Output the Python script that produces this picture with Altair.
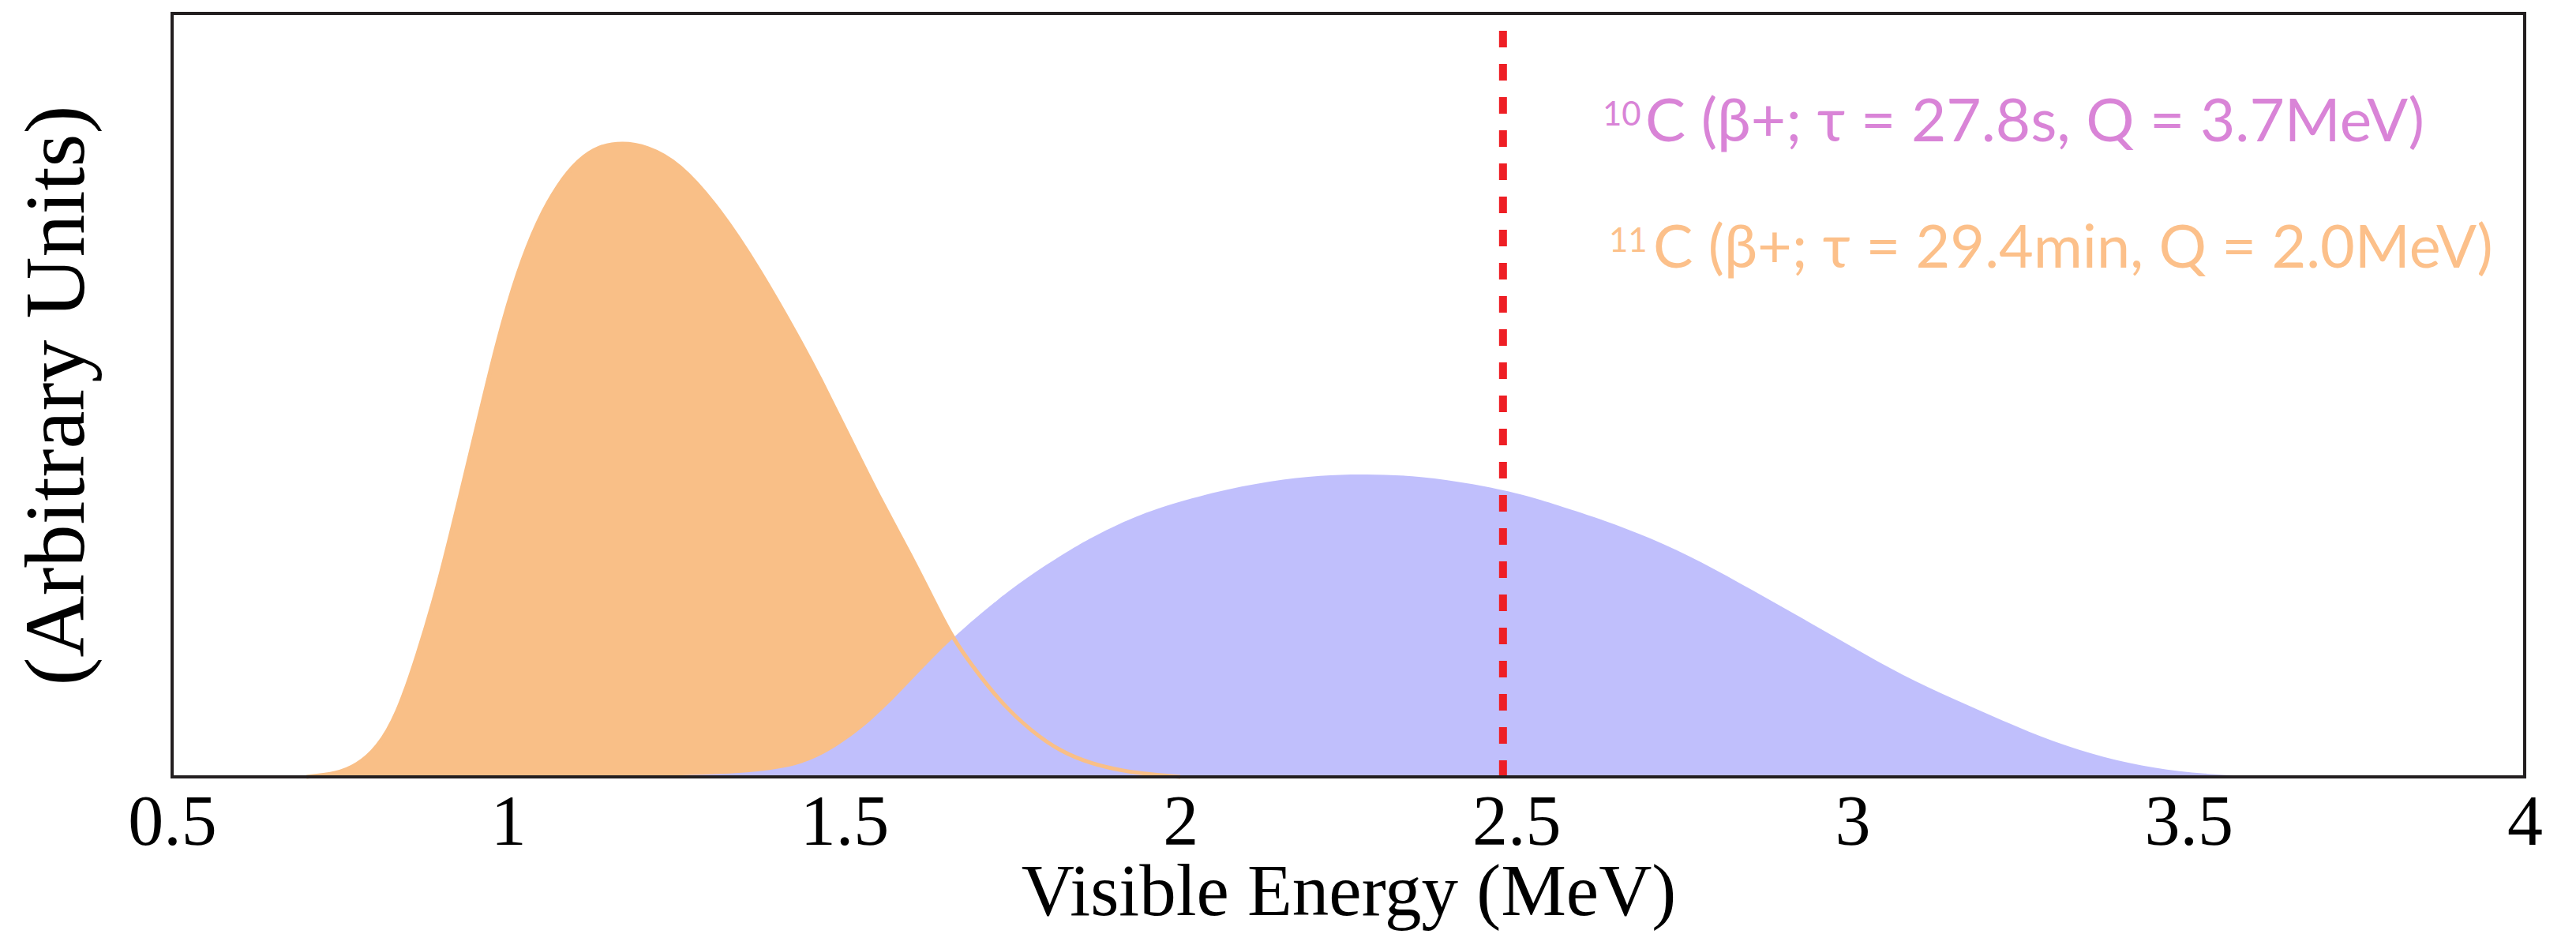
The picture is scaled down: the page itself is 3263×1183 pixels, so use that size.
import altair as alt
import pandas as pd

# 11C spectrum (orange)
c11_energy = [0.70, 0.745, 0.775, 0.805, 0.835, 0.865, 0.895, 0.925, 0.955, 0.985,
              1.014, 1.044, 1.074, 1.104, 1.134, 1.170, 1.206, 1.254, 1.314, 1.374,
              1.434, 1.463, 1.508, 1.553, 1.598, 1.643, 1.661, 1.688, 1.733, 1.778,
              1.822, 1.868, 1.913, 1.958, 2.0]
c11_value = [0.0, 0.004, 0.015, 0.037, 0.081, 0.159, 0.247, 0.355, 0.465, 0.575,
             0.662, 0.729, 0.776, 0.808, 0.826, 0.831, 0.826, 0.805, 0.745, 0.665,
             0.572, 0.524, 0.444, 0.364, 0.292, 0.213, 0.183, 0.148, 0.097, 0.060,
             0.033, 0.017, 0.008, 0.003, 0.0]

# 10C spectrum (blue)
c10_energy = [1.0, 1.2, 1.32, 1.418, 1.477, 1.544, 1.598, 1.661, 1.733, 1.778,
              1.835, 1.868, 1.91, 1.958, 2.048, 2.135, 2.21, 2.273, 2.36,
              2.435, 2.51, 2.55, 2.625, 2.70, 2.775, 2.85, 2.925, 3.0, 3.074,
              3.15, 3.225, 3.299, 3.374, 3.449, 3.524, 3.6, 3.64]
c10_value = [0.0, 0.001, 0.003, 0.010, 0.031, 0.075, 0.125, 0.183, 0.236, 0.265,
             0.297, 0.3135, 0.332, 0.350, 0.373, 0.388, 0.395, 0.397, 0.394,
             0.384, 0.370, 0.359, 0.338, 0.313, 0.282, 0.245, 0.208, 0.170, 0.133,
             0.102, 0.073, 0.0455, 0.025, 0.011, 0.0035, 0.001, 0.0]

threshold = [2.48]
x_ticks = [0.5, 1, 1.5, 2, 2.5, 3, 3.5, 4]

W, H = 2980, 967
ORANGE = "#F9BF87"
BLUE = "#C0BFFC"
SERIF = "Liberation Serif"
SANS = "Lato"

c11 = pd.DataFrame({"E": c11_energy, "v": c11_value})
c10 = pd.DataFrame({"E": c10_energy, "v": c10_value})
thr = pd.DataFrame({"E": threshold, "y0": [0.0], "y1": [1.0]})

xscale = alt.Scale(domain=[0.5, 4], nice=False, zero=False)
yscale = alt.Scale(domain=[0, 1], nice=False, zero=False)

xaxis = alt.Axis(values=x_ticks, format="~g", title="Visible Energy (MeV)",
                 grid=False, ticks=False, tickSize=0, domain=False,
                 labelFont=SERIF, labelFontSize=90, labelColor="black",
                 labelBaseline="alphabetic", labelPadding=85, labelFlush=False,
                 titleFont=SERIF, titleFontSize=93, titleFontWeight="normal",
                 titleColor="black", titleBaseline="alphabetic",
                 titleX=W / 2, titleY=174, titleAlign="center")
yaxis = alt.Axis(title="(Arbitrary Units)", labels=False, ticks=False, tickSize=0,
                 domain=False, grid=False,
                 titleFont=SERIF, titleFontSize=108, titleFontWeight="normal",
                 titleColor="black", titleBaseline="alphabetic",
                 titleX=-113, titleY=H / 2, titleAlign="center", titleAngle=270)

orange_area = alt.Chart(c11).mark_area(color=ORANGE, opacity=1, interpolate="basis").encode(
    x=alt.X("E:Q", scale=xscale, axis=xaxis),
    y=alt.Y("v:Q", scale=yscale, axis=yaxis),
)
blue_area = alt.Chart(c10).mark_area(color=BLUE, opacity=1, interpolate="basis").encode(
    x=alt.X("E:Q", scale=xscale),
    y=alt.Y("v:Q", scale=yscale),
)
orange_line = alt.Chart(c11).mark_line(color=ORANGE, strokeWidth=5, interpolate="basis").encode(
    x=alt.X("E:Q", scale=xscale),
    y=alt.Y("v:Q", scale=yscale),
)
rule = alt.Chart(thr).mark_rule(color="#EE1F25", strokeWidth=10, strokeDash=[21, 21]).encode(
    x=alt.X("E:Q", scale=xscale),
    y=alt.Y("y0:Q", scale=yscale),
    y2="y1:Q",
)

frame = alt.Chart(pd.DataFrame({"f": [0]})).mark_rect(
    fill=None, filled=False, stroke="#231F20", strokeWidth=4
).encode(x=alt.value(0), x2=alt.value(W), y=alt.value(0), y2=alt.value(H))

labels = pd.DataFrame({
    "sup": ["10", "11"],
    "main": ["C (\u03b2+; \u03c4 = 27.8s, Q = 3.7MeV)", "C (\u03b2+; \u03c4 = 29.4min, Q = 2.0MeV)"],
    "color": ["#D984D7", "#FCC08A"],
    "size": [76.5, 75.5],
})

def text_layer(row, field, px, py, size):
    return alt.Chart(labels.iloc[[row]]).mark_text(
        font=SANS, fontSize=size, align="left", baseline="alphabetic",
        color=labels["color"][row]
    ).encode(text=f"{field}:N", x=alt.value(px), y=alt.value(py))

texts = [
    text_layer(0, "sup", 1812, 142, 42),
    text_layer(0, "main", 1866, 162, float(labels["size"][0])),
    text_layer(1, "sup", 1820, 302, 42),
    text_layer(1, "main", 1876, 322, float(labels["size"][1])),
]

chart = alt.layer(orange_area, blue_area, orange_line, rule, frame, *texts).properties(
    width=W, height=H,
    autosize=alt.AutoSizeParams(type="none"),
    padding={"left": 210, "top": 9, "right": 50, "bottom": 196},
).configure_view(strokeWidth=0).configure(background="white")

chart.save("out.html", embed_options={"renderer": "svg", "actions": False})
